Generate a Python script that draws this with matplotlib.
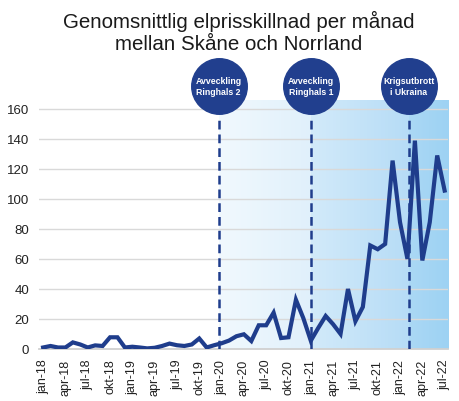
import matplotlib
matplotlib.use("Agg")
import matplotlib.pyplot as plt
import numpy as np
from matplotlib.colors import LinearSegmentedColormap

plt.rcParams['font.family'] = ['Liberation Sans', 'DejaVu Sans']

# Månadsvärden jan-18 .. jul-22
values = [1, 2, 1, 1, 4.4, 3, 1, 2.4, 2, 7.8, 7.8, 1,
          1.5, 1, 0.4, 0.8, 2, 3.6, 2.5, 2, 3, 7, 1, 2.5,
          3.8, 5.6, 8.5, 9.8, 5.3, 15.8, 15.8, 24.2, 7.3, 7.8, 32.8, 20.5,
          5.5, 14, 22, 16.5, 10, 40, 18.5, 28, 69, 66.5, 70, 125.6,
          84.5, 60, 138.9, 59, 84.5, 129, 105.6]
months = ["jan", "feb", "mar", "apr", "maj", "jun", "jul", "aug", "sep", "okt", "nov", "dec"]
labels = [f"{months[i % 12]}-{18 + i // 12}" for i in range(len(values))]

# Händelser (position i månader från jan-18)
event_x = [23.6, 36.0, 49.2]
event_text = ["Avveckling\nRinghals 2", "Avveckling\nRinghals 1", "Krigsutbrott\ni Ukraina"]

navy = "#1f3d8c"
x = np.arange(len(values))
ymax = 166
xmin, xmax = -0.55, 54.45

fig = plt.figure(figsize=(4.59, 4.02), dpi=100)
ax = fig.add_axes([0.085, 0.1294, 0.891, 0.6194])

# Bakgrundsfält med gradient
regions = [(event_x[0], event_x[1], "#f1f9fe", "#e0f0fb"),
           (event_x[1], event_x[2], "#d2eafa", "#b6dcf6"),
           (event_x[2], xmax, "#abd8f5", "#9dd2f3")]
for x0, x1, c0, c1 in regions:
    cmap = LinearSegmentedColormap.from_list("g", [c0, c1])
    ax.imshow(np.linspace(0, 1, 100).reshape(1, -1), cmap=cmap, aspect="auto",
              extent=(x0, x1, 0, ymax), zorder=0)

ax.set_xlim(xmin, xmax)
ax.set_ylim(0, ymax)

for y in range(20, 161, 20):
    ax.axhline(y, color="#d9d9d9", lw=1, zorder=1)

ax.plot(x, values, color=navy, lw=3, zorder=4, solid_joinstyle="miter")

for ex, txt in zip(event_x, event_text):
    ax.plot([ex, ex], [0, 155], color=navy, lw=1.8, dashes=(3.5, 2), zorder=3)
    ax.plot([ex], [175.3], marker="o", markersize=40, color="#213f8e",
            clip_on=False, zorder=5)
    ax.text(ex, 175.3, txt, color="white", fontsize=6.3, fontweight="bold",
            ha="center", va="center", clip_on=False, zorder=6, linespacing=1.2)

for s in ["top", "right", "left"]:
    ax.spines[s].set_visible(False)
ax.spines["bottom"].set_color("#d0d0d0")
ax.spines["bottom"].set_linewidth(1.3)

ax.set_yticks(range(0, 161, 20))
ax.set_xticks(x[::3])
ax.set_xticklabels(labels[::3], rotation=90)
ax.tick_params(axis="both", length=0, labelsize=9.5, colors="#222222")
ax.tick_params(axis="x", labelsize=9, pad=7)
ax.tick_params(axis="y", pad=7)

fig.text(0.52, 0.972, "Genomsnittlig elprisskillnad per månad\nmellan Skåne och Norrland",
         ha="center", va="top", fontsize=14.8, color="#1a1a1a", linespacing=1.2)

fig.savefig("out.png", dpi=100)
